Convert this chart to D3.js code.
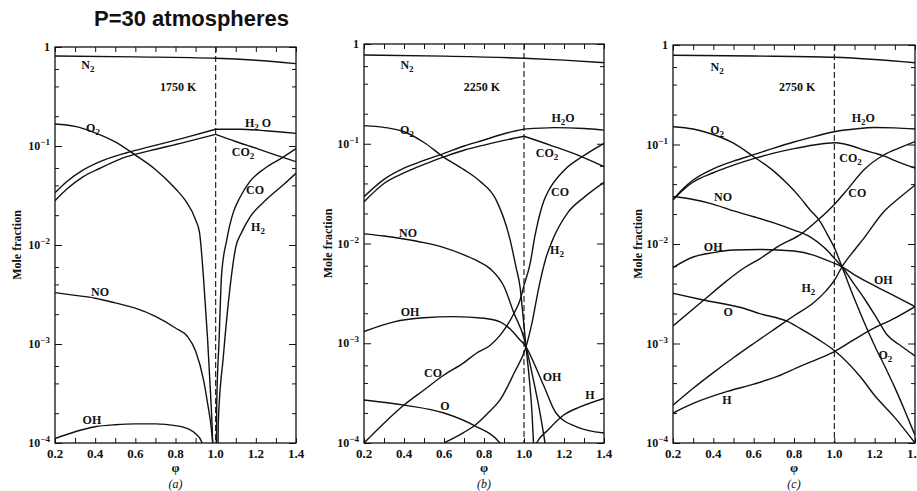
<!DOCTYPE html>
<html>
<head>
<meta charset="utf-8">
<script src="https://cdn.jsdelivr.net/npm/d3@7"></script>
<style>
  body { margin: 0; background: #fff; }
  text { font-family: "Liberation Serif", "Times New Roman", serif; fill: #111; }
</style>
</head>
<body>
<svg id="chart" width="917" height="491"></svg>
<script>
// ---- tick values ----
var xTicks = [0.2, 0.3, 0.4, 0.5, 0.6, 0.7, 0.8, 0.9, 1.0, 1.1, 1.2, 1.3, 1.4];
var xTickLabels = [0.2, 0.4, 0.6, 0.8, 1.0, 1.2, 1.4];
var yDecades = [1, 1e-1, 1e-2, 1e-3, 1e-4];
var yMinor = [6e-1, 4e-1, 2e-1, 6e-2, 4e-2, 2e-2, 6e-3, 4e-3, 2e-3, 6e-4, 4e-4, 2e-4];

// ---- (a) 1750 K : [phi, mole fraction] ----
var n2A = [[0.2,0.81],[0.6,0.795],[1.0,0.77],[1.2,0.735],[1.4,0.68]];
var o2A = [[0.2,0.167],[0.3,0.158],[0.4,0.136],[0.5,0.11],[0.6,0.081],[0.7,0.058],[0.8,0.037],[0.85,0.028],[0.9,0.018],[0.92,0.0132],[0.94,0.0045],[0.96,0.0011],[0.975,0.0003],[0.985,0.0001],[1.0,0.000001]];
var h2oA_lean = [[0.2,0.0337],[0.258,0.0436],[0.341,0.0573],[0.424,0.0695],[0.557,0.0855],[0.673,0.0984],[0.839,0.12],[1.0,0.1475]];
var h2oA_rich = [[1.0,0.1475],[1.12,0.1475],[1.25,0.1427],[1.4,0.134]];
var co2A_lean = [[0.2,0.028],[0.258,0.0365],[0.341,0.049],[0.424,0.0596],[0.557,0.078],[0.673,0.0897],[0.839,0.108],[1.0,0.131]];
var co2A_rich = [[1.0,0.131],[1.1,0.111],[1.2,0.095],[1.3,0.081],[1.4,0.0695]];
var coA = [[1.0,0.000001],[1.005,0.00023],[1.017,0.0011],[1.03,0.0052],[1.055,0.0112],[1.07,0.0158],[1.09,0.022],[1.12,0.03],[1.17,0.0436],[1.245,0.0596],[1.34,0.078],[1.4,0.094]];
var h2A = [[1.0,0.000001],[1.013,0.00016],[1.038,0.00074],[1.07,0.0035],[1.1,0.0095],[1.13,0.0135],[1.17,0.019],[1.25,0.0285],[1.34,0.041],[1.4,0.053]];
var noA = [[0.2,0.0033],[0.3,0.0031],[0.4,0.0029],[0.5,0.0026],[0.6,0.0023],[0.7,0.0019],[0.8,0.00145],[0.86,0.00119],[0.9,0.00085],[0.94,0.00043],[0.96,0.00025],[0.98,0.00013],[0.99,0.00007],[1.0,0.000001]];
var ohA = [[0.2,0.000111],[0.3,0.00013],[0.4,0.000146],[0.5,0.000153],[0.6,0.000156],[0.7,0.000156],[0.8,0.00015],[0.86,0.00014],[0.9,0.000124],[0.93,0.000103],[0.95,0.00005],[0.97,0.000005]];

// ---- (b) 2250 K ----
var n2B = [[0.2,0.776],[0.6,0.755],[1.0,0.72],[1.2,0.69],[1.4,0.65]];
var o2B = [[0.2,0.152],[0.3,0.146],[0.4,0.132],[0.5,0.103],[0.6,0.073],[0.7,0.055],[0.78,0.042],[0.86,0.0275],[0.93,0.011],[0.96,0.0058],[0.98,0.0037],[0.995,0.0019],[1.01,0.00092],[1.027,0.00043],[1.04,0.0002],[1.05,0.00008]];
var h2oB_lean = [[0.2,0.0295],[0.3,0.044],[0.4,0.057],[0.5,0.068],[0.6,0.08],[0.7,0.095],[0.8,0.109],[0.9,0.126],[1.0,0.14]];
var h2oB_rich = [[1.0,0.14],[1.15,0.145],[1.3,0.142],[1.4,0.137]];
var co2B_lean = [[0.2,0.0262],[0.3,0.04],[0.4,0.051],[0.5,0.062],[0.6,0.074],[0.7,0.086],[0.8,0.097],[0.9,0.108],[1.0,0.119]];
var co2B_rich = [[1.0,0.119],[1.13,0.097],[1.29,0.074],[1.4,0.059]];
var coB = [[0.2,0.0001],[0.3,0.000158],[0.4,0.00024],[0.5,0.00034],[0.6,0.00048],[0.7,0.00064],[0.76,0.00079],[0.83,0.00095],[0.88,0.0012],[0.91,0.00145],[0.95,0.002],[0.98,0.0027],[1.0,0.0038],[1.03,0.0062],[1.055,0.012],[1.08,0.02],[1.1,0.027],[1.12,0.033],[1.2,0.054],[1.29,0.074],[1.4,0.101]];
var h2B = [[0.6,0.0001],[0.7,0.000128],[0.75,0.000148],[0.82,0.0002],[0.88,0.00027],[0.95,0.0005],[1.01,0.00092],[1.04,0.0016],[1.075,0.0037],[1.11,0.0072],[1.14,0.0105],[1.22,0.0205],[1.3,0.029],[1.4,0.041]];
var noB = [[0.2,0.0125],[0.3,0.0119],[0.4,0.0111],[0.5,0.0102],[0.6,0.0091],[0.7,0.0077],[0.76,0.0068],[0.83,0.0056],[0.9,0.0037],[0.95,0.002],[1.0,0.00112],[1.01,0.00093],[1.03,0.00062],[1.047,0.00043],[1.08,0.0002],[1.105,0.0001],[1.12,0.00006]];
var ohB = [[0.2,0.00131],[0.35,0.00164],[0.5,0.0018],[0.65,0.00185],[0.8,0.00178],[0.88,0.00164],[0.92,0.00145],[0.98,0.00108],[1.01,0.00092],[1.05,0.00063],[1.1,0.00037],[1.16,0.0002],[1.26,0.000146],[1.4,0.000126]];
var oB = [[0.2,0.00027],[0.4,0.00024],[0.6,0.0002],[0.75,0.00015],[0.88,0.0001],[0.95,0.00006]];
var hB = [[1.0,0.00004],[1.063,0.0001],[1.12,0.000135],[1.197,0.00019],[1.28,0.00023],[1.4,0.00028]];

// ---- (c) 2750 K ----
var n2C = [[0.2,0.79],[0.6,0.775],[1.0,0.752],[1.2,0.715],[1.4,0.664]];
var o2C = [[0.2,0.151],[0.3,0.143],[0.384,0.129],[0.5,0.103],[0.6,0.0754],[0.7,0.054],[0.765,0.0407],[0.82,0.031],[0.88,0.022],[0.93,0.0168],[0.965,0.0125],[1.0,0.0092],[1.038,0.0059],[1.1,0.0028],[1.15,0.0016],[1.2,0.00095],[1.25,0.00059],[1.3,0.00036],[1.35,0.00021],[1.4,0.00012]];
var h2oC = [[0.2,0.028],[0.25,0.036],[0.3,0.044],[0.4,0.057],[0.5,0.068],[0.6,0.079],[0.7,0.092],[0.8,0.106],[0.9,0.12],[1.0,0.1345],[1.1,0.143],[1.2,0.148],[1.3,0.147],[1.4,0.143]];
var co2C = [[0.2,0.0277],[0.25,0.035],[0.3,0.042],[0.4,0.052],[0.5,0.062],[0.6,0.072],[0.7,0.082],[0.8,0.091],[0.9,0.099],[1.0,0.104],[1.1,0.095],[1.145,0.088],[1.2,0.082],[1.245,0.077],[1.3,0.069],[1.4,0.058]];
var coC = [[0.2,0.0015],[0.35,0.0027],[0.45,0.004],[0.55,0.0057],[0.63,0.0071],[0.72,0.0094],[0.84,0.0128],[0.92,0.0175],[1.0,0.025],[1.063,0.035],[1.146,0.0554],[1.245,0.0784],[1.32,0.092],[1.4,0.107]];
var h2C = [[0.2,0.00024],[0.3,0.000355],[0.4,0.00051],[0.5,0.00072],[0.6,0.001],[0.7,0.00138],[0.8,0.0019],[0.9,0.0026],[0.96,0.0034],[1.0,0.0043],[1.038,0.0059],[1.1,0.0087],[1.146,0.0114],[1.245,0.0211],[1.32,0.0288],[1.4,0.039]];
var noC = [[0.2,0.03],[0.3,0.028],[0.384,0.0256],[0.5,0.0215],[0.6,0.0188],[0.7,0.0163],[0.8,0.0138],[0.88,0.0118],[0.95,0.0092],[1.0,0.0072],[1.038,0.0059],[1.1,0.0039],[1.15,0.0028],[1.21,0.0018],[1.26,0.00123],[1.33,0.00095],[1.4,0.00075]];
var ohC = [[0.2,0.0058],[0.3,0.0074],[0.4,0.0082],[0.5,0.0087],[0.63,0.0088],[0.8,0.0085],[0.9,0.0077],[0.96,0.0069],[1.0,0.0064],[1.038,0.0059],[1.1,0.0049],[1.2,0.0038],[1.3,0.003],[1.4,0.00235]];
var oC = [[0.2,0.0032],[0.35,0.00274],[0.55,0.00226],[0.63,0.002],[0.77,0.00166],[0.83,0.00142],[0.92,0.0011],[1.0,0.00085],[1.13,0.00046],[1.2,0.0003],[1.3,0.00018],[1.4,0.0001]];
var hC = [[0.2,0.0002],[0.3,0.00025],[0.47,0.00033],[0.6,0.00039],[0.72,0.00047],[0.83,0.00059],[0.92,0.0007],[1.0,0.00083],[1.1,0.0011],[1.18,0.00137],[1.3,0.0018],[1.4,0.00235]];

// curve labels: [text, phi, mole fraction] ("_" = subscript next char)
var labelsA = [["N_2",0.364,0.6],["1750 K",0.813,0.36],["O_2",0.389,0.138],["H_2 O",1.211,0.156],["CO_2",1.136,0.079],["CO",1.196,0.0327],["H_2",1.211,0.0138],["NO",0.424,0.00305],["OH",0.384,0.000156]];
var labelsB = [["N_2",0.415,0.561],["2250 K",0.79,0.338],["O_2",0.415,0.125],["H_2O",1.195,0.165],["CO_2",1.115,0.0736],["CO",1.18,0.03],["NO",0.42,0.0116],["H_2",1.165,0.00785],["OH",0.43,0.001876],["CO",0.545,0.000459],["O",0.605,0.000214],["OH",1.14,0.000418],["H",1.33,0.000276]];
var labelsC = [["N_2",0.419,0.548],["2750 K",0.816,0.345],["O_2",0.419,0.1276],["H_2O",1.144,0.168],["CO_2",1.08,0.0667],["CO",1.114,0.0297],["NO",0.448,0.027],["OH",0.399,0.0085],["H_2",0.871,0.0033],["OH",1.243,0.00396],["O",0.473,0.00189],["O_2",1.253,0.0007],["H",0.468,0.000247]];

var svg = d3.select("#chart");

svg.append("text")
  .attr("x", 94).attr("y", 26)
  .style("font-family", "'Liberation Sans', Arial, sans-serif")
  .style("font-weight", "bold")
  .style("font-size", "22px")
  .text("P=30 atmospheres");

var panels = [
  {id: "a", left: 55,  right: 296, top: 47, bottom: 443, ylabX: 21,
   series: [n2A, o2A, h2oA_lean, h2oA_rich, co2A_lean, co2A_rich, coA, h2A, noA, ohA], labels: labelsA},
  {id: "b", left: 364, right: 604, top: 44, bottom: 443, ylabX: 332,
   series: [n2B, o2B, h2oB_lean, h2oB_rich, co2B_lean, co2B_rich, coB, h2B, noB, ohB, oB, hB], labels: labelsB},
  {id: "c", left: 673, right: 915, top: 45, bottom: 443, ylabX: 642,
   series: [n2C, o2C, h2oC, co2C, coC, h2C, noC, ohC, oC, hC], labels: labelsC}
];

// write a label with "_" subscripts
function richText(sel, str, size) {
  var sub = false, shifted = false;
  for (var i = 0; i < str.length; i++) {
    var c = str[i];
    if (c === "_") { sub = true; continue; }
    if (sub) {
      sel.append("tspan").attr("dy", 3).style("font-size", (size - 3) + "px").text(c);
      sub = false; shifted = true;
    } else {
      var t = sel.append("tspan").text(c);
      if (shifted) { t.attr("dy", -3); shifted = false; }
    }
  }
}

panels.forEach(function(p) {
  var x = d3.scaleLinear().domain([0.2, 1.4]).range([p.left, p.right]);
  var y = d3.scaleLog().domain([1e-4, 1]).range([p.bottom, p.top]);
  var g = svg.append("g");

  svg.append("clipPath").attr("id", "clip-" + p.id)
    .append("rect")
      .attr("x", p.left).attr("y", p.top)
      .attr("width", p.right - p.left).attr("height", p.bottom - p.top);

  // ticks (inward, all four sides)
  function noDomain(s) { s.select(".domain").remove(); s.selectAll("line").attr("stroke", "#111"); }
  g.append("g").attr("transform", "translate(0," + p.bottom + ")")
    .call(d3.axisBottom(x).tickValues(xTicks).tickSizeInner(-5).tickSizeOuter(0).tickFormat(""))
    .call(noDomain);
  g.append("g").attr("transform", "translate(0," + p.top + ")")
    .call(d3.axisTop(x).tickValues(xTicks).tickSizeInner(-5).tickSizeOuter(0).tickFormat(""))
    .call(noDomain);
  g.append("g").attr("transform", "translate(" + p.left + ",0)")
    .call(d3.axisLeft(y).tickValues(yMinor).tickSizeInner(-4).tickSizeOuter(0).tickFormat(""))
    .call(noDomain);
  g.append("g").attr("transform", "translate(" + p.left + ",0)")
    .call(d3.axisLeft(y).tickValues(yDecades).tickSizeInner(-7).tickSizeOuter(0).tickFormat(""))
    .call(noDomain);
  g.append("g").attr("transform", "translate(" + p.right + ",0)")
    .call(d3.axisRight(y).tickValues(yMinor).tickSizeInner(-4).tickSizeOuter(0).tickFormat(""))
    .call(noDomain);
  g.append("g").attr("transform", "translate(" + p.right + ",0)")
    .call(d3.axisRight(y).tickValues(yDecades).tickSizeInner(-7).tickSizeOuter(0).tickFormat(""))
    .call(noDomain);

  // frame
  g.append("rect")
    .attr("x", p.left).attr("y", p.top)
    .attr("width", p.right - p.left).attr("height", p.bottom - p.top)
    .attr("fill", "none").attr("stroke", "#111").attr("stroke-width", 1.3);

  // stoichiometric line
  g.append("line")
    .attr("x1", x(1)).attr("x2", x(1)).attr("y1", p.top).attr("y2", p.bottom)
    .attr("stroke", "#111").attr("stroke-width", 1.1).attr("stroke-dasharray", "6,3");

  // curves
  var line = d3.line()
    .x(function(d) { return x(d[0]); })
    .y(function(d) { return y(d[1]); })
    .curve(d3.curveMonotoneX);
  g.append("g").attr("clip-path", "url(#clip-" + p.id + ")")
    .selectAll("path").data(p.series).enter().append("path")
      .attr("d", line)
      .attr("fill", "none").attr("stroke", "#111").attr("stroke-width", 1.4);

  // x tick labels
  g.selectAll(".xl").data(xTickLabels).enter().append("text")
    .attr("x", function(d) { return x(d); }).attr("y", p.bottom + 15)
    .attr("text-anchor", "middle")
    .style("font-size", "13px").style("font-weight", "bold")
    .text(function(d) { return d3.format(".1f")(d); });

  // y tick labels
  yDecades.forEach(function(v, i) {
    var t = g.append("text")
      .attr("x", p.left - 5).attr("y", y(v) + 4)
      .attr("text-anchor", "end")
      .style("font-size", "12px").style("font-weight", "bold");
    if (i === 0) { t.text("1"); }
    else {
      t.append("tspan").text("10");
      t.append("tspan").attr("dy", -5).style("font-size", "9px").text("\u2212" + i);
    }
  });

  // axis titles
  g.append("text")
    .attr("transform", "translate(" + p.ylabX + "," + (p.top + p.bottom) / 2 + ") rotate(-90)")
    .attr("text-anchor", "middle")
    .style("font-size", "12px").style("font-weight", "bold")
    .text("Mole fraction");
  g.append("text")
    .attr("x", (p.left + p.right) / 2).attr("y", 472)
    .attr("text-anchor", "middle")
    .style("font-size", "13px").style("font-weight", "bold")
    .text("\u03c6");
  g.append("text")
    .attr("x", (p.left + p.right) / 2).attr("y", 488)
    .attr("text-anchor", "middle")
    .style("font-size", "12px").style("font-style", "italic")
    .text("(" + p.id + ")");

  // curve labels
  p.labels.forEach(function(l) {
    var t = g.append("text")
      .attr("x", x(l[1])).attr("y", y(l[2]))
      .attr("text-anchor", "middle")
      .style("font-size", "12px").style("font-weight", "bold");
    richText(t, l[0], 12);
  });
});
</script>
</body>
</html>
